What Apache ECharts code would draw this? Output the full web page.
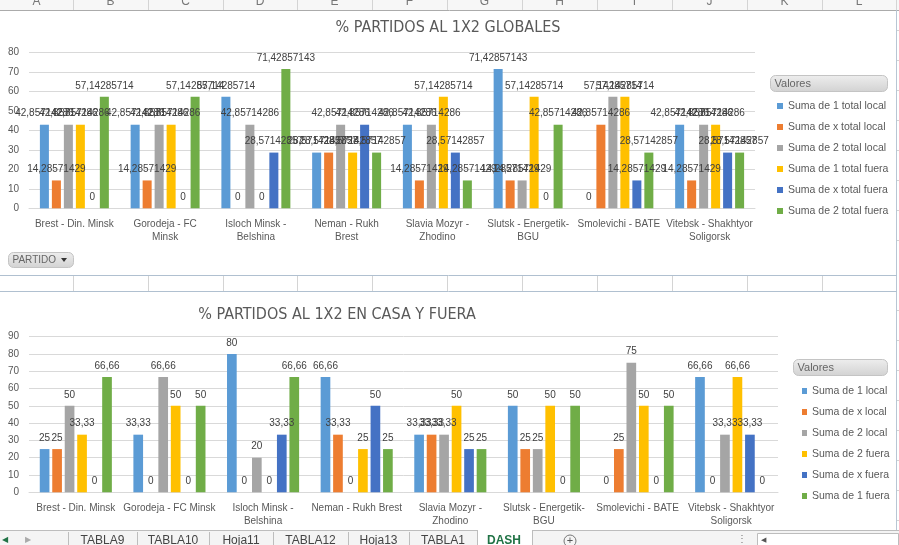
<!DOCTYPE html>
<html><head><meta charset="utf-8">
<script src="https://cdn.jsdelivr.net/npm/echarts@6/dist/echarts.min.js"></script>
<style>html,body{margin:0;padding:0;background:#fff}#c{width:899px;height:545px}</style>
</head><body><div id="c"></div>
<script>
// ---------- data ----------
const categories = ['Brest - Din. Minsk', 'Gorodeja - FC Minsk', 'Isloch Minsk - Belshina', 'Neman - Rukh Brest', 'Slavia Mozyr - Zhodino', 'Slutsk - Energetik-BGU', 'Smolevichi - BATE', 'Vitebsk - Shakhtyor Soligorsk'];
const tickLabelsTop = ['Brest - Din. Minsk', 'Gorodeja - FC\nMinsk', 'Isloch Minsk -\nBelshina', 'Neman - Rukh\nBrest', 'Slavia Mozyr -\nZhodino', 'Slutsk - Energetik-\nBGU', 'Smolevichi - BATE', 'Vitebsk - Shakhtyor\nSoligorsk'];
const tickLabelsBottom = ['Brest - Din. Minsk', 'Gorodeja - FC Minsk', 'Isloch Minsk -\nBelshina', 'Neman - Rukh Brest', 'Slavia Mozyr -\nZhodino', 'Slutsk - Energetik-\nBGU', 'Smolevichi - BATE', 'Vitebsk - Shakhtyor\nSoligorsk'];

const titleTop = '% PARTIDOS AL 1X2 GLOBALES';
const titleBottom = '% PARTIDOS AL 1X2 EN CASA Y FUERA';

const namesTop = ['Suma de 1 total local', 'Suma de x total local', 'Suma de 2 total local', 'Suma de 1 total fuera', 'Suma de x total fuera', 'Suma de 2 total fuera'];
const g1TotalLocal = [42.85714286, 42.85714286, 57.14285714, 28.57142857, 42.85714286, 71.42857143, 0, 42.85714286];
const gXTotalLocal = [14.28571429, 14.28571429, 0, 28.57142857, 14.28571429, 14.28571429, 42.85714286, 14.28571429];
const g2TotalLocal = [42.85714286, 42.85714286, 42.85714286, 42.85714286, 42.85714286, 14.28571429, 57.14285714, 42.85714286];
const g1TotalFuera = [42.85714286, 42.85714286, 0, 28.57142857, 57.14285714, 57.14285714, 57.14285714, 42.85714286];
const gXTotalFuera = [0, 0, 28.57142857, 42.85714286, 28.57142857, 0, 14.28571429, 28.57142857];
const g2TotalFuera = [57.14285714, 57.14285714, 71.42857143, 28.57142857, 14.28571429, 42.85714286, 28.57142857, 28.57142857];

const namesBottom = ['Suma de 1 local', 'Suma de x local', 'Suma de 2 local', 'Suma de 2 fuera', 'Suma de x fuera', 'Suma de 1 fuera'];
const c1Local = [25, 33.33, 80, 66.66, 33.33, 50, 0, 66.66];
const cXLocal = [25, 0, 0, 33.33, 33.33, 25, 25, 0];
const c2Local = [50, 66.66, 20, 0, 33.33, 25, 75, 33.33];
const c2Fuera = [33.33, 50, 0, 25, 50, 50, 50, 66.66];
const cXFuera = [0, 0, 33.33, 50, 25, 0, 0, 33.33];
const c1Fuera = [66.66, 50, 66.66, 25, 25, 50, 50, 0];

const sheetTabs = ['TABLA9', 'TABLA10', 'Hoja11', 'TABLA12', 'Hoja13', 'TABLA1'];
const columnLetters = ['A','B','C','D','E','F','G','H','I','J','K','L'];

// ---------- styling ----------
const colors = ['#5B9BD5', '#ED7D31', '#A5A5A5', '#FFC000', '#4472C4', '#70AD47'];
const FONT = "'Liberation Sans', Arial, sans-serif";
const NARROW = "'Liberation Sans Narrow', 'DejaVu Sans Condensed', sans-serif";
const fmt = p => String(p.value).replace('.', ',');

function mkSeries(names, arrays, axisIdx, gap, catGap) {
  return names.map((n, i) => ({
    name: n, type: 'bar', xAxisIndex: axisIdx, yAxisIndex: axisIdx,
    data: arrays[i], barGap: gap, barCategoryGap: catGap,
    itemStyle: { color: colors[i] },
    label: { show: true, position: 'top', distance: 6, formatter: fmt, fontSize: 10, fontFamily: FONT, color: '#404040' },
    emphasis: { disabled: true }, animation: false
  }));
}

const seriesTop = mkSeries(namesTop, [g1TotalLocal, gXTotalLocal, g2TotalLocal, g1TotalFuera, gXTotalFuera, g2TotalFuera], 0, '33%', '24%');
const seriesBottom = mkSeries(namesBottom, [c1Local, cXLocal, c2Local, c2Fuera, cXFuera, c1Fuera], 1, '29%', '23%');

function xAx(gi, labels) {
  return {
    type: 'category', gridIndex: gi, data: categories,
    axisLine: { lineStyle: { color: '#D9D9D9' } }, axisTick: { show: false },
    axisLabel: { interval: 0, margin: 9, fontSize: 10, lineHeight: 13, fontFamily: FONT, color: '#595959',
      formatter: (v, i) => labels[i] }
  };
}
function yAx(gi, max) {
  return {
    type: 'value', gridIndex: gi, min: 0, max: max, interval: 10,
    axisLine: { show: false }, axisTick: { show: false },
    splitLine: { lineStyle: { color: '#D9D9D9' } },
    axisLabel: { margin: 10, fontSize: 10, fontFamily: FONT, color: '#595959' }
  };
}

const gline = (x1, y1, x2, y2, c) => ({ type: 'line', shape: { x1, y1, x2, y2 }, style: { stroke: c, lineWidth: 1 }, silent: true });
const gtext = (x, y, t, o) => ({ type: 'text', x, y, style: Object.assign({ text: t, fontSize: 11, fontFamily: FONT, fill: '#595959', align: 'center', verticalAlign: 'middle' }, o || {}), silent: true });
const graphics = [];
// column header row
graphics.push({ type: 'rect', shape: { x: 0, y: 0, width: 899, height: 10 }, style: { fill: '#F7F7F7' }, silent: true });
const colEdges = [0, 73, 148, 223, 297, 372, 447, 522, 597, 672, 747, 822, 896];
columnLetters.forEach((l, i) => graphics.push(gtext((colEdges[i] + colEdges[i + 1]) / 2, 2, l, { fill: '#777', fontSize: 12 })));
colEdges.slice(1).forEach(x => graphics.push(gline(x + 0.5, 0, x + 0.5, 10, '#D4D4D4')));
graphics.push(gline(0, 10.5, 899, 10.5, '#ABABAB'));
// chart borders / cells between
graphics.push(gline(896.5, 10, 896.5, 530, '#B8C6D4'));
graphics.push(gline(0, 275.5, 897, 275.5, '#B0C0D0'));
graphics.push(gline(0, 291.5, 897, 291.5, '#B0C0D0'));
colEdges.slice(1, -1).forEach(x => graphics.push(gline(x + 0.5, 276, x + 0.5, 291, '#D4D4D4')));
// right strip cells
[30, 60, 90, 120, 150, 180, 210, 240, 310, 340, 370, 400, 430, 460, 490, 520].forEach(y => graphics.push(gline(897, y + 0.5, 899, y + 0.5, '#D4D4D4')));
// titles
graphics.push(gtext(448, 28, titleTop, { fontSize: 16, fontFamily: NARROW, fill: '#595959' }));
graphics.push(gtext(337, 315, titleBottom, { fontSize: 16, fontFamily: NARROW, fill: '#595959' }));
// buttons
function button(x, y, w, h, t, fs) {
  graphics.push({ type: 'rect', shape: { x, y, width: w, height: h, r: 5 },
    style: { fill: new echarts.graphic.LinearGradient(0, 0, 0, 1, [{ offset: 0, color: '#EEEEEE' }, { offset: 1, color: '#D2D2D2' }]), stroke: '#C4C4C4', lineWidth: 1 }, silent: true });
  graphics.push(gtext(x + 4, y + h / 2, t, { align: 'left', fontSize: fs, fill: '#666' }));
}
button(770.5, 75.5, 117, 16, 'Valores', 11);
button(793.5, 359.5, 94, 16, 'Valores', 11);
button(8.5, 252.5, 65, 15, 'PARTIDO', 10);
graphics.push({ type: 'polygon', shape: { points: [[61, 258], [67, 258], [64, 262]] }, style: { fill: '#333' }, silent: true });
// sheet tabs bar
graphics.push({ type: 'rect', shape: { x: 0, y: 530, width: 899, height: 15 }, style: { fill: '#F4F4F4' }, silent: true });
graphics.push(gline(0, 530.5, 899, 530.5, '#BDBDBD'));
graphics.push(gtext(5, 540, '◀', { fontSize: 8, fill: '#217346' }));
graphics.push(gtext(28, 540, '▶', { fontSize: 8, fill: '#AAAAAA' }));
const tabEdges = [68, 137, 209, 273, 348, 409, 477];
sheetTabs.forEach((t, i) => graphics.push(gtext((tabEdges[i] + tabEdges[i + 1]) / 2, 541, t, { fontSize: 12, fill: '#444' })));
tabEdges.slice(0, -1).forEach(x => graphics.push(gline(x + 0.5, 532, x + 0.5, 545, '#BDBDBD')));
graphics.push({ type: 'rect', shape: { x: 477, y: 530, width: 55, height: 15 }, style: { fill: '#FFFFFF' }, silent: true });
graphics.push(gline(477.5, 530, 477.5, 545, '#BDBDBD'));
graphics.push(gline(532.5, 530, 532.5, 545, '#BDBDBD'));
graphics.push(gtext(504, 541, 'DASH', { fontSize: 12, fontWeight: 'bold', fill: '#217346' }));
graphics.push({ type: 'circle', shape: { cx: 570, cy: 541, r: 6 }, style: { fill: 'none', stroke: '#777', lineWidth: 1 }, silent: true });
graphics.push(gtext(570, 541, '+', { fontSize: 11, fill: '#555' }));
graphics.push(gtext(742, 539, '⋮', { fontSize: 10, fill: '#777' }));
graphics.push({ type: 'rect', shape: { x: 757.5, y: 533.5, width: 141, height: 12 }, style: { fill: '#FFFFFF', stroke: '#BDBDBD', lineWidth: 1 }, silent: true });
graphics.push(gtext(763, 540, '◀', { fontSize: 7, fill: '#555' }));

const option = {
  animation: false,
  backgroundColor: '#FFFFFF',
  grid: [
    { left: 29, right: 144, top: 52.3, height: 156 },
    { left: 29, right: 121, top: 336.7, height: 155.6 }
  ],
  xAxis: [xAx(0, tickLabelsTop), xAx(1, tickLabelsBottom)],
  yAxis: [yAx(0, 80), yAx(1, 90)],
  legend: [
    { data: namesTop, orient: 'vertical', left: 772, top: 95, icon: 'rect', itemWidth: 6, itemHeight: 6, itemGap: 9,
      textStyle: { fontSize: 10.5, lineHeight: 12, fontFamily: FONT, color: '#595959' }, selectedMode: false },
    { data: namesBottom, orient: 'vertical', left: 797, top: 380, icon: 'rect', itemWidth: 5, itemHeight: 6, itemGap: 9,
      textStyle: { fontSize: 10.5, lineHeight: 12, fontFamily: FONT, color: '#595959' }, selectedMode: false }
  ],
  graphic: graphics,
  series: seriesTop.concat(seriesBottom)
};
const chart = echarts.init(document.getElementById('c'));
chart.setOption(option);
</script></body></html>
